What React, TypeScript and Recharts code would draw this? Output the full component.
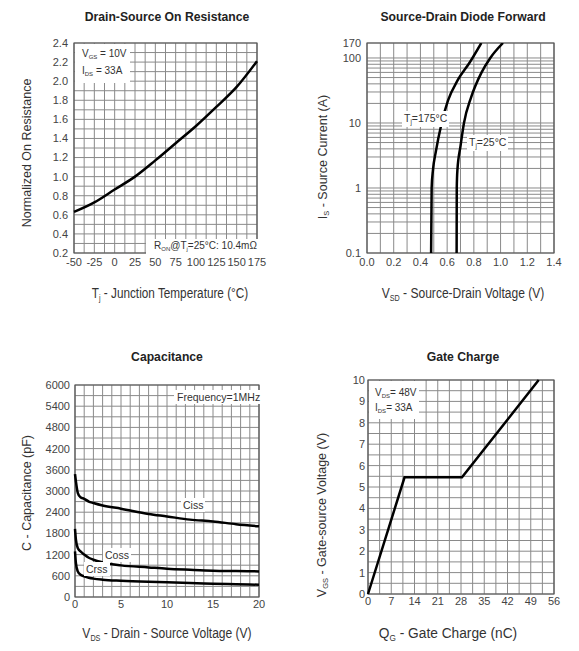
import { CartesianGrid, Line, LineChart, ReferenceArea, XAxis, YAxis } from 'recharts'
import type { ReactNode } from 'react'

// Drain-Source On Resistance
const tempC = [-50, -25, 0, 25, 50, 75, 100, 125, 150, 175]
const rdsNorm = [0.63, 0.73, 0.865, 1.0, 1.17, 1.35, 1.53, 1.73, 1.94, 2.21]
const tempLabels = [-50, -25, 0, 25, 50, 75, 100, 125, 150, 175]
const rdsLabels = [0.2, 0.4, 0.6, 0.8, 1.0, 1.2, 1.4, 1.6, 1.8, 2.0, 2.2, 2.4]

// Source-Drain Diode Forward (current in A, voltage in V)
const is175 = [0.1, 1, 1.9, 3.5, 10, 22, 46, 83, 170]
const vsd175 = [0.48, 0.484, 0.494, 0.514, 0.559, 0.606, 0.68, 0.765, 0.856]
const is25 = [0.1, 1, 1.9, 4.4, 10, 25, 59, 100, 170]
const vsd25 = [0.671, 0.672, 0.677, 0.7, 0.726, 0.78, 0.856, 0.923, 1.018]
const vsdLabels = [0, 0.2, 0.4, 0.6, 0.8, 1.0, 1.2, 1.4]
const isLabels = [0.1, 1, 10, 100, 170]

// Capacitance
const vds = [0, 0.1, 0.3, 0.6, 1, 1.5, 2, 3, 5, 8, 10, 12.5, 15, 17.5, 20]
const ciss = [3480, 3270, 2950, 2820, 2780, 2700, 2660, 2590, 2500, 2350, 2280, 2190, 2140, 2060, 2000]
const coss = [1930, 1620, 1385, 1290, 1200, 1110, 1055, 980, 895, 838, 800, 770, 745, 735, 725]
const crss = [1290, 960, 725, 630, 585, 545, 520, 490, 460, 430, 415, 395, 378, 362, 348]
const vdsLabels = [0, 5, 10, 15, 20]
const capLabels = [0, 600, 1200, 1800, 2400, 3000, 3600, 4200, 4800, 5400, 6000]

// Gate Charge
const qg = [0, 11, 28.3, 51.4]
const vgs = [0, 5.45, 5.45, 10]
const qgLabels = [0, 7, 14, 21, 28, 35, 42, 49, 56]
const vgsLabels = [0, 1, 2, 3, 4, 5, 6, 7, 8, 9, 10]

const steps = (from: number, to: number, step: number) => {
  const out: number[] = []
  for (let v = from; v <= to + 1e-9; v += step) out.push(+v.toFixed(4))
  return out
}
const logGrid = [1, 2, 3, 4, 5, 6, 7, 8, 9].flatMap((m) => [+(m * 0.1).toFixed(2), m, m * 10]).concat([100, 170]).sort((a, b) => a - b)

const only = (labels: number[], fmt: (v: number) => string) => (v: number) =>
  labels.some((l) => Math.abs(l - v) < 1e-6) ? fmt(v) : ''

const rdsData = tempC.map((t, i) => ({ t, r: rdsNorm[i] }))
const d175 = is175.map((a, i) => ({ v: vsd175[i], a }))
const d25 = is25.map((a, i) => ({ v: vsd25[i], a }))
const capData = vds.map((v, i) => ({ v, ciss: ciss[i], coss: coss[i], crss: crss[i] }))
const gateData = qg.map((q, i) => ({ q, v: vgs[i] }))

const FONT = '"Liberation Sans", Arial, sans-serif'
const tick = { fill: '#444', fontSize: 11, fontFamily: FONT }
const GRID = '#8a8a8a'
const BORDER = '#555'
const curve = { stroke: '#000', strokeWidth: 2.5, dot: false, isAnimationActive: false }

function Txt({ x, y, size = 13, bold = false, rotate = false, sx = 1, children }: { x: number; y: number; size?: number; bold?: boolean; rotate?: boolean; sx?: number; children: ReactNode }) {
  return (
    <div style={{ position: 'absolute', left: x, top: y, transform: `translate(-50%, -50%)${rotate ? ' rotate(-90deg)' : ''} scaleX(${sx})`, fontSize: size, fontWeight: bold ? 700 : 400, whiteSpace: 'nowrap', color: bold ? '#222' : '#333', lineHeight: 1 }}>
      {children}
    </div>
  )
}

function Sub({ children }: { children: ReactNode }) {
  return <span style={{ fontSize: '0.6em', position: 'relative', top: '0.3em' }}>{children}</span>
}

function Box({ x, y, children, style }: { x: number; y: number; children: ReactNode; style?: React.CSSProperties }) {
  return (
    <div style={{ position: 'absolute', left: x, top: y, background: '#fff', fontSize: 10, color: '#333', whiteSpace: 'nowrap', ...style }}>
      {children}
    </div>
  )
}

function App() {
  return (
    <div style={{ position: 'absolute', left: 0, top: 0, width: 579, height: 651, background: '#fff', fontFamily: FONT }}>
      <div style={{ position: 'absolute', left: 0, top: 0 }}>
        <LineChart width={290} height={300} data={rdsData} margin={{ top: 43, right: 33, bottom: 0, left: 0 }}>
          <CartesianGrid stroke={GRID} strokeWidth={1} />
          <XAxis dataKey="t" type="number" domain={[-50, 175]} ticks={steps(-50, 175, 12.5)} interval={0} height={47} tickSize={0} tickMargin={5} axisLine={false} tick={tick} tickFormatter={only(tempLabels, (v) => String(v))} />
          <YAxis type="number" domain={[0.2, 2.4]} ticks={steps(0.2, 2.4, 0.1)} interval={0} width={74} tickSize={0} tickMargin={6} axisLine={false} tick={tick} tickFormatter={only(rdsLabels, (v) => v.toFixed(1))} />
          <ReferenceArea x1={-50} x2={175} y1={0.2} y2={2.4} fill="none" stroke={BORDER} strokeWidth={1.2} />
          <Line type="monotone" dataKey="r" {...curve} />
        </LineChart>
      </div>

      <div style={{ position: 'absolute', left: 290, top: 0 }}>
        <LineChart width={289} height={300} margin={{ top: 43, right: 25, bottom: 0, left: 0 }}>
          <CartesianGrid stroke={GRID} strokeWidth={1} />
          <XAxis dataKey="v" type="number" domain={[0, 1.4]} ticks={steps(0, 1.4, 0.1)} interval={0} height={47} tickSize={0} tickMargin={5} axisLine={false} tick={tick} tickFormatter={only(vsdLabels, (v) => v.toFixed(1))} allowDataOverflow />
          <YAxis dataKey="a" type="number" scale="log" domain={[0.1, 170]} ticks={logGrid} interval={0} width={77} tickSize={0} tickMargin={6} axisLine={false} tick={tick} tickFormatter={only(isLabels, (v) => String(v))} allowDataOverflow />
          <ReferenceArea x1={0} x2={1.4} y1={0.1} y2={170} fill="none" stroke={BORDER} strokeWidth={1.2} />
          <Line data={d175} type="monotone" dataKey="a" {...curve} />
          <Line data={d25} type="monotone" dataKey="a" {...curve} />
        </LineChart>
      </div>

      <div style={{ position: 'absolute', left: 0, top: 300 }}>
        <LineChart width={290} height={351} data={capData} margin={{ top: 85, right: 31, bottom: 0, left: 0 }}>
          <CartesianGrid stroke={GRID} strokeWidth={1} />
          <XAxis dataKey="v" type="number" domain={[0, 20]} ticks={steps(0, 20, 1)} interval={0} height={54} tickSize={0} tickMargin={3} axisLine={false} tick={tick} tickFormatter={only(vdsLabels, (v) => String(v))} />
          <YAxis type="number" domain={[0, 6000]} ticks={steps(0, 6000, 300)} interval={0} width={75} tickSize={0} tickMargin={5} axisLine={false} tick={tick} tickFormatter={only(capLabels, (v) => String(v))} />
          <ReferenceArea x1={0} x2={20} y1={0} y2={6000} fill="none" stroke={BORDER} strokeWidth={1.2} />
          <Line type="monotone" dataKey="ciss" {...curve} />
          <Line type="monotone" dataKey="coss" {...curve} />
          <Line type="monotone" dataKey="crss" {...curve} />
        </LineChart>
      </div>

      <div style={{ position: 'absolute', left: 290, top: 300 }}>
        <LineChart width={289} height={351} data={gateData} margin={{ top: 80, right: 25, bottom: 0, left: 0 }}>
          <CartesianGrid stroke={GRID} strokeWidth={1} />
          <XAxis dataKey="q" type="number" domain={[0, 56]} ticks={steps(0, 56, 3.5)} interval={0} height={57} tickSize={0} tickMargin={3} axisLine={false} tick={tick} tickFormatter={only(qgLabels, (v) => String(v))} />
          <YAxis type="number" domain={[0, 10]} ticks={steps(0, 10, 0.5)} interval={0} width={78} tickSize={0} tickMargin={3} axisLine={false} tick={tick} tickFormatter={only(vgsLabels, (v) => String(v))} />
          <ReferenceArea x1={0} x2={56} y1={0} y2={10} fill="none" stroke={BORDER} strokeWidth={1.2} />
          <Line type="linear" dataKey="v" {...curve} />
        </LineChart>
      </div>

      <Txt x={167} y={17} size={12.2} bold>Drain-Source On Resistance</Txt>
      <Txt x={463} y={17} size={12.2} bold>Source-Drain Diode Forward</Txt>
      <Txt x={167} y={357} size={12.2} bold>Capacitance</Txt>
      <Txt x={463} y={357} size={12.2} bold>Gate Charge</Txt>

      <Txt x={170} y={293} size={14} sx={0.84}>T<Sub>j</Sub> - Junction Temperature (°C)</Txt>
      <Txt x={463} y={293} size={14} sx={0.86}>V<Sub>SD</Sub> - Source-Drain Voltage (V)</Txt>
      <Txt x={167} y={633} size={14} sx={0.86}>V<Sub>DS</Sub> - Drain - Source Voltage (V)</Txt>
      <Txt x={448} y={633} size={14} sx={0.98}>Q<Sub>G</Sub> - Gate Charge (nC)</Txt>

      <Txt x={27} y={153} size={12.5} rotate>Normalized On Resistance</Txt>
      <Txt x={323} y={157} size={12.5} rotate>I<Sub>S</Sub> - Source Current (A)</Txt>
      <Txt x={27} y={493} size={12.5} rotate>C - Capacitance (pF)</Txt>
      <Txt x={322} y={515} size={12.5} rotate>V<Sub>GS</Sub> - Gate-source Voltage (V)</Txt>

      <Box x={75} y={44} style={{ padding: '2px 3px 3px 7px', lineHeight: '16px' }}>
        <div>V<Sub>GS</Sub> = 10V</div>
        <div>I<Sub>DS</Sub> = 33A</div>
      </Box>
      <Box x={146} y={239} style={{ padding: '0 3px 0 8px', lineHeight: '13px' }}>
        R<Sub>ON</Sub>@T<Sub>j</Sub>=25°C: 10.4mΩ
      </Box>
      <Box x={402} y={111} style={{ padding: '0 2px', lineHeight: '14px', fontSize: 10.5 }}>
        T<Sub>j</Sub>=175°C
      </Box>
      <Box x={467} y={135} style={{ padding: '0 2px', lineHeight: '14px', fontSize: 10.5 }}>
        T<Sub>j</Sub>=25°C
      </Box>
      <Box x={174} y={390} style={{ padding: '0 3px', lineHeight: '14px', fontSize: 10.5 }}>
        Frequency=1MHz
      </Box>
      <Box x={181} y={498} style={{ padding: '0 2px', lineHeight: '14px', fontSize: 10.5 }}>Ciss</Box>
      <Box x={103} y={548} style={{ padding: '0 2px', lineHeight: '14px', fontSize: 10.5 }}>Coss</Box>
      <Box x={84} y={562} style={{ padding: '0 2px', lineHeight: '14px', fontSize: 10.5 }}>Crss</Box>
      <Box x={369} y={381} style={{ padding: '5px 3px 3px 6px', lineHeight: '14px' }}>
        <div>V<Sub>DS</Sub>= 48V</div>
        <div>I<Sub>DS</Sub>= 33A</div>
      </Box>
    </div>
  )
}

export default App
